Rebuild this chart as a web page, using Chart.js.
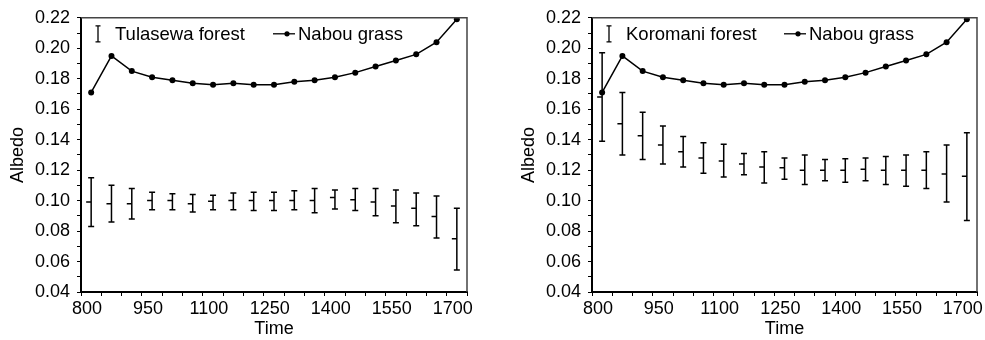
<!DOCTYPE html>
<html lang="en">
<head>
<meta charset="UTF-8">
<title>Albedo: forest vs grass</title>
<script src="https://cdn.jsdelivr.net/npm/chart.js@4"></script>
<style>
  body { margin: 0; background: #fff; }
  .wrap { position: absolute; top: 0; }
</style>
</head>
<body>
<div class="wrap" style="left:0"><canvas id="left" width="490" height="340"></canvas></div>
<div class="wrap" style="left:511px"><canvas id="right" width="474" height="340"></canvas></div>
<script>
// x positions of the measurements
const times = [825, 875, 925, 975, 1025, 1075, 1125, 1175, 1225, 1275, 1325, 1375, 1425, 1475, 1525, 1575, 1625, 1675, 1725];
const timeLabels = [800, 950, 1100, 1250, 1400, 1550, 1700];

// Nabou grass (same curve in both panels)
const nabouGrass = [0.171, 0.195, 0.185, 0.181, 0.179, 0.177, 0.176, 0.177, 0.176, 0.176, 0.178, 0.179, 0.181, 0.184, 0.188, 0.192, 0.196, 0.204, 0.219];

// Tulasewa forest: mean, low, high
const tulasewaMid  = [0.099, 0.098, 0.098, 0.100, 0.100, 0.098, 0.0995, 0.100, 0.100, 0.100, 0.100, 0.100, 0.102, 0.1005, 0.099, 0.0965, 0.095, 0.0895, 0.075];
const tulasewaLow  = [0.083, 0.086, 0.088, 0.094, 0.094, 0.0925, 0.094, 0.094, 0.0935, 0.0935, 0.094, 0.092, 0.0945, 0.0935, 0.090, 0.0855, 0.0835, 0.0755, 0.0545];
const tulasewaHigh = [0.115, 0.110, 0.108, 0.1055, 0.1045, 0.104, 0.1035, 0.105, 0.1055, 0.1055, 0.1065, 0.108, 0.107, 0.108, 0.108, 0.107, 0.105, 0.103, 0.095];

// Koromani forest: mean, low, high
const koromaniMid  = [0.168, 0.1505, 0.1425, 0.1365, 0.132, 0.128, 0.126, 0.124, 0.122, 0.1215, 0.120, 0.120, 0.120, 0.1205, 0.120, 0.120, 0.120, 0.1175, 0.116];
const koromaniLow  = [0.139, 0.130, 0.127, 0.124, 0.122, 0.118, 0.1155, 0.117, 0.1115, 0.114, 0.1105, 0.113, 0.112, 0.113, 0.1105, 0.1095, 0.108, 0.099, 0.087];
const koromaniHigh = [0.197, 0.171, 0.158, 0.149, 0.142, 0.138, 0.137, 0.131, 0.132, 0.128, 0.130, 0.127, 0.1275, 0.128, 0.129, 0.130, 0.132, 0.1365, 0.1445];

const FONT = "'Liberation Sans', Arial, sans-serif";
Chart.defaults.color = '#000';
Chart.defaults.font.family = FONT;

// vertical error bars with caps and a little dash at the mean
const errorBars = {
  id: 'errorBars',
  beforeDatasetsDraw(chart) {
    const ctx = chart.ctx, xs = chart.scales.x, ys = chart.scales.y;
    chart.data.datasets.forEach(ds => {
      if (!ds.low) return;
      ctx.save();
      ctx.strokeStyle = '#000';
      ctx.lineWidth = 1.5;
      ds.data.forEach((p, i) => {
        const x = xs.getPixelForValue(p.x);
        const yl = ys.getPixelForValue(ds.low[i]);
        const yh = ys.getPixelForValue(ds.high[i]);
        const ym = ys.getPixelForValue(p.y);
        ctx.beginPath();
        ctx.moveTo(x, yh); ctx.lineTo(x, yl);
        ctx.moveTo(x - 3, yh); ctx.lineTo(x + 3, yh);
        ctx.moveTo(x - 3, yl); ctx.lineTo(x + 3, yl);
        ctx.moveTo(x - 5, ym); ctx.lineTo(x, ym);
        ctx.stroke();
      });
      ctx.restore();
    });
  }
};

// top/right frame and the key inside the plot
const frameAndKey = {
  id: 'frameAndKey',
  afterDraw(chart) {
    const ctx = chart.ctx, a = chart.chartArea;
    const names = chart.data.datasets.map(d => d.label);
    ctx.save();
    ctx.strokeStyle = '#444';
    ctx.lineWidth = 1.5;
    ctx.beginPath();
    ctx.moveTo(a.left, a.top); ctx.lineTo(a.right, a.top); ctx.lineTo(a.right, a.bottom);
    ctx.stroke();

    const y = a.top + 16;
    ctx.strokeStyle = '#000';
    ctx.fillStyle = '#000';
    ctx.lineWidth = 1.3;
    // error bar symbol
    let x = a.left + 17;
    ctx.beginPath();
    ctx.moveTo(x, y - 8); ctx.lineTo(x, y + 8);
    ctx.moveTo(x - 2.5, y - 8); ctx.lineTo(x + 2.5, y - 8);
    ctx.moveTo(x - 2.5, y + 8); ctx.lineTo(x + 2.5, y + 8);
    ctx.stroke();
    ctx.font = '18.5px ' + FONT;
    ctx.textBaseline = 'middle';
    ctx.fillText(names[0], a.left + 34, y + 1);
    // line + dot symbol
    x = a.left + 192;
    ctx.beginPath();
    ctx.moveTo(x, y); ctx.lineTo(x + 22, y);
    ctx.stroke();
    ctx.beginPath();
    ctx.arc(x + 14, y, 2.6, 0, Math.PI * 2);
    ctx.fill();
    ctx.fillText(names[1], a.left + 217, y + 1);
    ctx.restore();
  }
};

function makeChart(id, forestName, mid, low, high, padRight) {
  return new Chart(document.getElementById(id), {
    type: 'scatter',
    data: {
      datasets: [{
        label: forestName,
        data: times.map((t, i) => ({ x: t, y: mid[i] })),
        low: low,
        high: high,
        pointRadius: 0,
        showLine: false
      }, {
        label: 'Nabou grass',
        data: times.map((t, i) => ({ x: t, y: nabouGrass[i] })),
        showLine: true,
        borderColor: '#000',
        backgroundColor: '#000',
        borderWidth: 1.5,
        pointRadius: 3,
        pointBorderWidth: 0,
        tension: 0
      }]
    },
    options: {
      responsive: false,
      animation: false,
      layout: { padding: { top: 15, right: padRight, left: 0, bottom: 0 } },
      plugins: { legend: { display: false }, tooltip: { enabled: false } },
      scales: {
        x: {
          type: 'linear',
          min: 800,
          max: 1750,
          border: { display: true, color: '#000', width: 2 },
          grid: { drawOnChartArea: false, drawTicks: true, tickLength: 4, color: '#000', lineWidth: 1 },
          ticks: {
            stepSize: 50,
            autoSkip: false,
            maxRotation: 0,
            padding: 2,
            labelOffset: 6,
            font: { size: 18 },
            callback: v => timeLabels.includes(v) ? String(v) : ''
          },
          title: { display: true, text: 'Time', font: { size: 18 }, padding: { top: 0, bottom: 0 } },
          afterFit: s => { s.height = 48; }
        },
        y: {
          min: 0.04,
          max: 0.22,
          border: { display: true, color: '#000', width: 2 },
          grid: { drawOnChartArea: false, drawTicks: true, tickLength: 4, color: '#000', lineWidth: 1 },
          ticks: {
            stepSize: 0.01,
            autoSkip: false,
            padding: 7,
            font: { size: 18 },
            callback: v => Math.round(v * 100) % 2 === 0 ? v.toFixed(2) : ''
          },
          title: { display: true, text: 'Albedo', font: { size: 18 }, padding: { top: 7, bottom: 0 } },
          afterFit: s => { s.width = 81; }
        }
      }
    },
    plugins: [errorBars, frameAndKey]
  });
}

makeChart('left', 'Tulasewa forest', tulasewaMid, tulasewaLow, tulasewaHigh, 23);
makeChart('right', 'Koromani forest', koromaniMid, koromaniLow, koromaniHigh, 8);
</script>
</body>
</html>
